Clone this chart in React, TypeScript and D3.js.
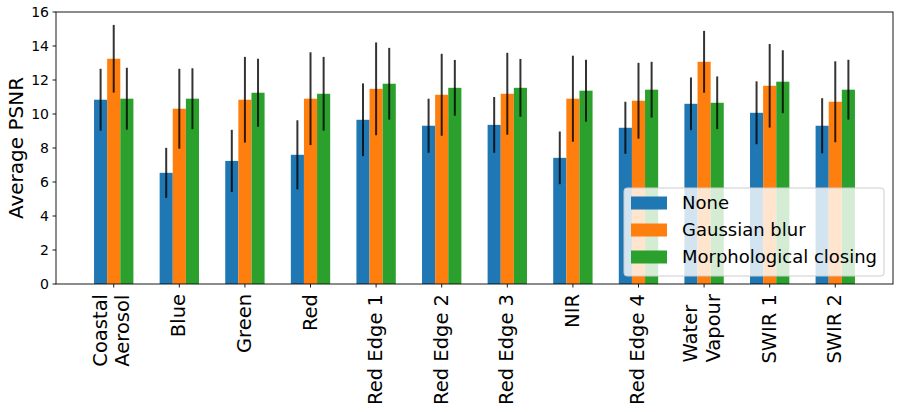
import { useEffect, useRef } from "react";
import * as d3 from "d3";

// band names (\n = second line of a label)
const bands = [
  "Coastal\nAerosol", "Blue", "Green", "Red", "Red Edge 1", "Red Edge 2",
  "Red Edge 3", "NIR", "Red Edge 4", "Water\nVapour", "SWIR 1", "SWIR 2",
];
const seriesNames = ["None", "Gaussian blur", "Morphological closing"];
const seriesColors = ["#1f77b4", "#ff7f0e", "#2ca02c"];

// mean PSNR per band
const noneMean = [10.84, 6.54, 7.24, 7.6, 9.66, 9.31, 9.36, 7.42, 9.19, 10.6, 10.07, 9.31];
const blurMean = [13.25, 10.31, 10.84, 10.9, 11.48, 11.13, 11.19, 10.9, 10.78, 13.07, 11.66, 10.72];
const closingMean = [10.9, 10.9, 11.25, 11.19, 11.78, 11.54, 11.54, 11.37, 11.43, 10.66, 11.9, 11.43];

// std dev (error bars)
const noneStd = [1.82, 1.47, 1.83, 2.03, 2.14, 1.59, 1.64, 1.55, 1.53, 1.55, 1.85, 1.62];
const blurStd = [1.99, 2.35, 2.52, 2.73, 2.73, 2.41, 2.41, 2.53, 2.23, 1.82, 2.46, 2.38];
const closingStd = [1.82, 1.79, 2.0, 2.17, 2.11, 1.64, 1.7, 1.82, 1.64, 1.55, 1.85, 1.76];

const yTicks = [0, 2, 4, 6, 8, 10, 12, 14, 16];

const W = 900;
const H = 412;
const font = "'DejaVu Sans', sans-serif";

export default function App() {
  const ref = useRef<SVGSVGElement>(null);

  useEffect(() => {
    const svg = d3.select(ref.current);
    svg.selectAll("*").remove();

    const left = 56, right = 893, top = 12, bottom = 284;
    const means = [noneMean, blurMean, closingMean];
    const stds = [noneStd, blurStd, closingStd];
    const barW = 0.2;

    // numeric x like matplotlib, 5% margins around the bars
    const x = d3.scaleLinear().domain([-0.88, bands.length - 1 + 0.88]).range([left, right]);
    const y = d3.scaleLinear().domain([0, 16]).range([bottom, top]);

    const g = svg.append("g");

    // bars
    means.forEach((vals, s) => {
      const off = (s - 1) * barW;
      g.selectAll(`.bar${s}`)
        .data(vals)
        .enter().append("rect")
        .attr("x", (_, i) => x(i + off - barW / 2))
        .attr("width", x(barW) - x(0))
        .attr("y", d => y(d))
        .attr("height", d => y(0) - y(d))
        .attr("fill", seriesColors[s]);
    });

    // error bars
    means.forEach((vals, s) => {
      const off = (s - 1) * barW;
      g.selectAll(`.err${s}`)
        .data(vals)
        .enter().append("line")
        .attr("x1", (_, i) => x(i + off))
        .attr("x2", (_, i) => x(i + off))
        .attr("y1", (d, i) => y(d + stds[s][i]))
        .attr("y2", (d, i) => y(d - stds[s][i]))
        .attr("stroke", "#000")
        .attr("stroke-opacity", 0.8)
        .attr("stroke-width", 2);
    });

    // frame
    g.append("rect")
      .attr("x", left).attr("y", top)
      .attr("width", right - left).attr("height", bottom - top)
      .attr("fill", "none").attr("stroke", "#000").attr("stroke-width", 0.9);

    // y axis ticks
    const yAxis = g.append("g");
    yTicks.forEach(t => {
      yAxis.append("line")
        .attr("x1", left - 3.5).attr("x2", left)
        .attr("y1", y(t)).attr("y2", y(t))
        .attr("stroke", "#000").attr("stroke-width", 0.9);
      yAxis.append("text")
        .attr("x", left - 7).attr("y", y(t))
        .attr("dy", "0.36em")
        .attr("text-anchor", "end")
        .attr("font-family", font).attr("font-size", 14)
        .attr("fill", "#000")
        .text(t);
    });

    // y label
    g.append("text")
      .attr("transform", `translate(23, ${(top + bottom) / 2}) rotate(-90)`)
      .attr("text-anchor", "middle")
      .attr("font-family", font).attr("font-size", 20)
      .attr("fill", "#000")
      .text("Average PSNR");

    // x ticks + rotated labels
    const labelTop = 294;
    bands.forEach((b, i) => {
      const cx = x(i);
      g.append("line")
        .attr("x1", cx).attr("x2", cx)
        .attr("y1", bottom).attr("y2", bottom + 3.5)
        .attr("stroke", "#000").attr("stroke-width", 0.9);
      const lines = b.split("\n");
      const texts = lines.map(l =>
        g.append("text")
          .attr("font-family", font).attr("font-size", 19.5)
          .attr("fill", "#000")
          .attr("text-anchor", "start")
          .text(l)
      );
      const widths = texts.map(t => (t.node() as SVGTextElement).getComputedTextLength());
      const maxW = d3.max(widths) || 0;
      const baseY = labelTop + maxW;
      texts.forEach((t, k) => {
        const bx = lines.length === 1 ? cx + 6 : cx - 7 + k * 22.5;
        t.attr("transform", `translate(${bx}, ${baseY}) rotate(-90)`);
      });
    });

    // legend
    const lg = g.append("g");
    lg.append("rect")
      .attr("x", 624).attr("y", 188)
      .attr("width", 260).attr("height", 88)
      .attr("rx", 3)
      .attr("fill", "#fff").attr("fill-opacity", 0.8)
      .attr("stroke", "#cccccc").attr("stroke-width", 1);
    seriesNames.forEach((n, k) => {
      const cy = 203 + k * 27;
      lg.append("rect")
        .attr("x", 631).attr("y", cy - 6.5)
        .attr("width", 36).attr("height", 13)
        .attr("fill", seriesColors[k]);
      lg.append("text")
        .attr("x", 682).attr("y", cy)
        .attr("dy", "0.36em")
        .attr("font-family", font).attr("font-size", 18)
        .attr("fill", "#000")
        .text(n);
    });
  }, []);

  return (
    <svg
      ref={ref}
      width={W}
      height={H}
      style={{ position: "absolute", left: 0, top: 0, background: "#fff" }}
    />
  );
}
